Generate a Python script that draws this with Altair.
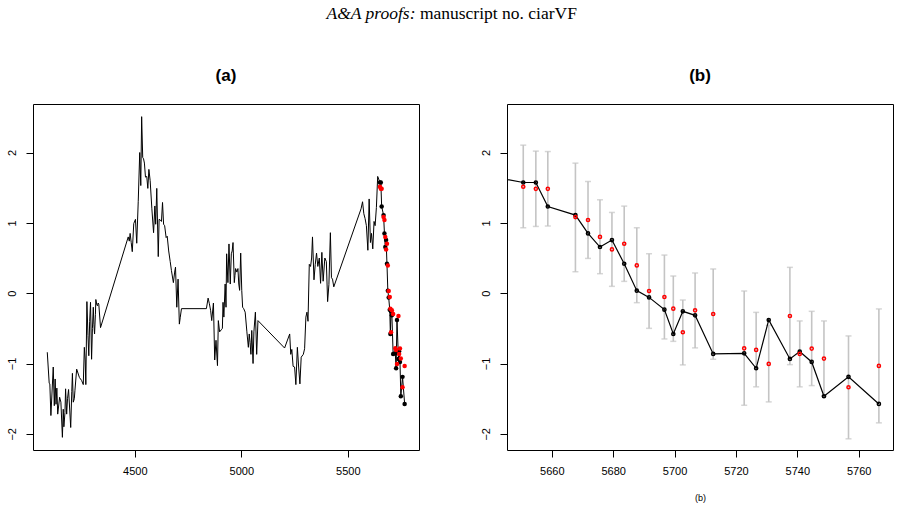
import altair as alt
import pandas as pd

# ---------------- data ----------------
hist_x = [4089, 4098, 4101, 4106, 4117, 4122, 4126, 4130, 4134, 4138, 4147, 4153, 4160, 4164,
          4167, 4172, 4175, 4180, 4184, 4189, 4199, 4204, 4207, 4211, 4216, 4219, 4227, 4240,
          4250, 4258, 4263, 4267, 4270, 4275, 4280, 4284, 4288, 4292, 4297, 4301, 4305, 4308,
          4311, 4315, 4317, 4322, 4325, 4328, 4331, 4339,
          4469, 4474, 4478, 4483, 4488, 4495, 4503, 4509, 4516, 4523, 4528, 4532, 4537, 4541,
          4545, 4550, 4556, 4561, 4566, 4572, 4580, 4588, 4594, 4598, 4603, 4610, 4614, 4620,
          4625, 4630, 4635, 4640, 4647, 4652, 4659, 4666, 4672, 4681, 4687, 4691, 4697, 4703,
          4709, 4713, 4719,
          4836, 4844, 4850, 4856, 4861, 4869, 4875, 4881, 4888, 4892, 4898, 4906, 4911, 4914,
          4918, 4924, 4928, 4931, 4937, 4942, 4948, 4953, 4957, 4961, 4967, 4970, 4973, 4979,
          4984, 4988, 4992, 4997, 5002, 5006, 5011, 5018, 5026, 5033, 5037, 5041, 5045, 5049,
          5055, 5059, 5066, 5072, 5078,
          5203, 5215, 5227, 5232, 5237, 5243, 5250, 5256, 5263, 5269, 5275, 5281, 5291, 5297,
          5303, 5308, 5313, 5319, 5325, 5330, 5334, 5341, 5347, 5353, 5359, 5366, 5372, 5378,
          5384, 5392, 5399, 5405, 5411, 5418, 5423, 5428, 5434,
          5562, 5569, 5575, 5581, 5587, 5594, 5600, 5606, 5611, 5617, 5623, 5628, 5634, 5640]
hist_y = [-0.84, -1.28, -1.29, -1.74, -1.05, -1.60, -1.22, -1.58, -1.35, -1.72, -1.48, -1.55, -2.05, -1.65,
          -1.90, -1.70, -1.36, -1.72, -1.50, -1.37, -1.91, -1.40, -1.14, -1.55, -1.50, -1.38, -1.08, -1.20,
          -1.24, -1.30, -0.77, -0.95, -1.30, -0.12, -0.60, -0.89, -0.40, -0.13, -0.94, -0.50, -0.20, -0.45,
          -0.58, -0.30, -0.09, -0.17, -0.18, -0.14, -0.16, -0.49,
          0.80, 0.74, 0.85, 0.72, 0.59, 0.99, 1.05, 0.71, 1.30, 2.00, 1.53, 2.51, 1.93, 1.91,
          1.85, 1.65, 1.66, 1.49, 1.76, 1.60, 1.20, 0.86, 1.24, 0.98, 1.49, 0.52, 1.05, 1.04,
          1.02, 1.29, 0.98, 0.96, 0.79, 0.81, 0.60, 0.45, 0.32, 0.15, 0.30, 0.37, -0.20, 0.20,
          -0.44, -0.35, -0.22,
          -0.22, -0.07, -0.15, -0.25, -0.39, -0.14, -0.95, -0.67, -1.03, -0.39, -0.55, -0.52, -0.50, -0.13,
          -0.34, 0.13, -0.20, 0.56, 0.15, 0.70, 0.13, 0.56, 0.60, 0.72, 0.15, 0.25, 0.35, 0.30,
          0.35, 0.13, 0.04, 0.57, 0.04, -0.20, -0.22, -0.27, -0.55, -0.77, -0.58, -0.70, -0.87, -0.53,
          -1.00, -0.55, -0.27, -0.87, -0.39,
          -0.78, -0.68, -0.58, -0.87, -0.80, -1.04, -1.05, -1.30, -0.77, -1.05, -1.29, -0.91, -0.87, -0.79,
          -0.34, -0.27, -0.40, 0.41, 0.38, 0.50, 0.80, 0.19, 0.41, 0.57, 0.38, 0.50, 0.14, 0.58,
          0.17, 0.50, 0.45, -0.12, 0.12, 0.86, 0.22, 0.20, 0.09,
          1.20, 1.30, 1.13, 1.06, 0.96, 0.61, 1.34, 0.72, 0.85, 0.63, 1.02, 0.96, 1.22, 1.66]

fit_x = [5650.7, 5654.8, 5658.7, 5667.7, 5671.8, 5675.7, 5679.6, 5683.6, 5687.7, 5691.7, 5696.7, 5699.6,
         5702.7, 5706.7, 5712.6, 5722.7, 5726.6, 5730.7, 5737.6, 5740.8, 5744.7, 5748.7, 5756.7, 5766.6]
fit_y = [1.574, 1.574, 1.233, 1.110, 0.850, 0.656, 0.755, 0.419, 0.036, -0.060, -0.234, -0.580,
         -0.258, -0.315, -0.864, -0.855, -1.068, -0.381, -0.935, -0.831, -0.978, -1.466, -1.190, -1.575]
obs_y = [1.513, 1.484, 1.484, 1.082, 1.040, 0.800, 0.622, 0.703, 0.395, 0.031, -0.054, -0.220,
         -0.556, -0.244, -0.296, -0.784, -0.807, -1.006, -0.324, -0.864, -0.788, -0.930, -1.338, -1.034]
err_hi = [2.105, 2.020, 2.014, 1.849, 1.588, 1.328, 1.148, 1.238, 0.930, 0.561, 0.542, 0.244,
          -0.097, 0.287, 0.344, 0.031, -0.273, -0.457, 0.367, -0.395, -0.258, -0.395, -0.608, -0.224]
err_lo = [0.930, 0.949, 0.955, 0.305, 0.494, 0.277, 0.097, 0.168, -0.135, -0.500, -0.651, -0.685,
          -1.020, -0.778, -0.940, -1.594, -1.332, -1.546, -1.016, -1.332, -1.314, -1.460, -2.071, -1.844]

y_ticks = [-2, -1, 0, 1, 2]
xa_ticks = [4500, 5000, 5500]
xb_ticks = [5660, 5680, 5700, 5720, 5740, 5760]
header_italic = "A&A proofs:"
header_roman = "manuscript no. ciarVF"
title_a = "(a)"
title_b = "(b)"
caption_b = "(b)"

# ---------------- tables ----------------
full = pd.DataFrame({"x": hist_x + fit_x, "y": hist_y + fit_y})
full["i"] = range(len(full))
fit = pd.DataFrame({"x": fit_x, "y": fit_y, "obs": obs_y, "lo": err_lo, "hi": err_hi})
line_b = pd.DataFrame({"x": hist_x[-1:] + fit_x, "y": hist_y[-1:] + fit_y})
line_b["i"] = range(len(line_b))

W, H = 386, 346
FONT = "Liberation Sans"
ydom = [-2.23, 2.69]

yscale = alt.Scale(domain=ydom, nice=False, zero=False)
yaxis = alt.Axis(values=y_ticks, title=None, labelAngle=270, labelAlign="center",
                 labelBaseline="bottom", labelPadding=9, format="d")


def title_mark(txt):
    return alt.Chart(pd.DataFrame({"t": [txt]})).mark_text(
        font=FONT, fontSize=17, fontWeight="bold", align="center", baseline="alphabetic",
        color="black").encode(x=alt.value(W / 2), y=alt.value(-23), text="t:N")


# ---------------- panel (a) ----------------
xa_scale = alt.Scale(domain=[4022, 5834], nice=False, zero=False)
xa_axis = alt.Axis(values=xa_ticks, title=None, format="d", labelPadding=8)

line_a = alt.Chart(full).mark_line(color="black", strokeWidth=1).encode(
    x=alt.X("x:Q", scale=xa_scale, axis=xa_axis),
    y=alt.Y("y:Q", scale=yscale, axis=yaxis),
    order="i:Q",
)
dots_black_a = alt.Chart(fit).mark_circle(color="black", size=20, opacity=1).encode(
    x=alt.X("x:Q", scale=xa_scale), y=alt.Y("y:Q", scale=yscale))
dots_red_a = alt.Chart(fit).mark_circle(color="#ff0000", size=20, opacity=1).encode(
    x=alt.X("x:Q", scale=xa_scale), y=alt.Y("obs:Q", scale=yscale))

hdr = pd.DataFrame({"a": [header_italic], "b": [header_roman]})
hdr1 = alt.Chart(hdr).mark_text(font="Liberation Serif", fontStyle="italic", fontSize=17.5,
                                 align="right", baseline="alphabetic", color="black").encode(
    x=alt.value(382.5), y=alt.value(-85), text="a:N")
hdr2 = alt.Chart(hdr).mark_text(font="Liberation Serif", fontSize=17.5,
                                 align="left", baseline="alphabetic", color="black").encode(
    x=alt.value(386.9), y=alt.value(-85), text="b:N")

panel_a = alt.layer(line_a, dots_black_a, dots_red_a, hdr1, hdr2, title_mark(title_a)).properties(
    width=W, height=H)

# ---------------- panel (b) ----------------
xb_scale = alt.Scale(domain=[5645.4, 5771.2], nice=False, zero=False)
xb_axis = alt.Axis(values=xb_ticks, title=caption_b, format="d", labelPadding=8,
                   titleFontSize=9, titleFontWeight="normal", titleFont=FONT, titlePadding=17)

err_rule = alt.Chart(fit).mark_rule(color="#c4c4c4", strokeWidth=1.6).encode(
    x=alt.X("x:Q", scale=xb_scale, axis=xb_axis),
    y=alt.Y("lo:Q", scale=yscale, axis=yaxis), y2="hi:Q")
cap_lo = alt.Chart(fit).mark_tick(orient="horizontal", color="#c4c4c4", size=6, thickness=1.5).encode(
    x=alt.X("x:Q", scale=xb_scale), y=alt.Y("lo:Q", scale=yscale))
cap_hi = alt.Chart(fit).mark_tick(orient="horizontal", color="#c4c4c4", size=6, thickness=1.5).encode(
    x=alt.X("x:Q", scale=xb_scale), y=alt.Y("hi:Q", scale=yscale))
line_bm = alt.Chart(line_b).mark_line(color="black", strokeWidth=1.2, clip=True).encode(
    x=alt.X("x:Q", scale=xb_scale), y=alt.Y("y:Q", scale=yscale), order="i:Q")
pts_black_b = alt.Chart(fit).mark_point(color="black", size=10, strokeWidth=1.5, filled=False,
                                         opacity=1).encode(
    x=alt.X("x:Q", scale=xb_scale), y=alt.Y("y:Q", scale=yscale))
pts_red_b = alt.Chart(fit).mark_point(color="#ff0000", size=10, strokeWidth=1.5, filled=False,
                                       opacity=1).encode(
    x=alt.X("x:Q", scale=xb_scale), y=alt.Y("obs:Q", scale=yscale))

panel_b = alt.layer(err_rule, cap_lo, cap_hi, line_bm, pts_black_b, pts_red_b,
                    title_mark(title_b)).properties(width=W, height=H)

chart = alt.hconcat(panel_a, panel_b, spacing=88, bounds="flush").properties(
    padding={"left": 5, "top": 4, "right": 0, "bottom": 0},
    background="white",
).configure_view(stroke="black", strokeWidth=1).configure_axis(
    domain=False, grid=False, tickColor="black", tickSize=7, tickWidth=1,
    labelColor="black", labelFont=FONT, labelFontSize=11, titleColor="black",
)

chart.save("out.html", embed_options={"renderer": "svg", "actions": False})
